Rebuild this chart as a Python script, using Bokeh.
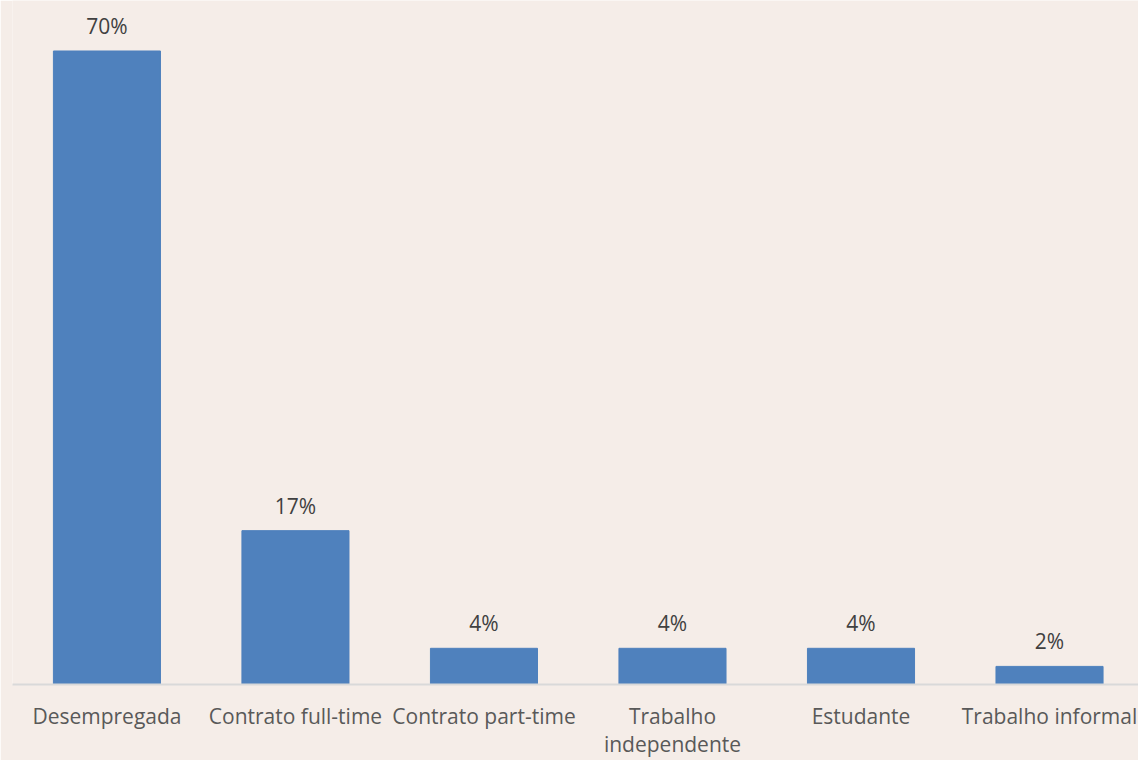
from bokeh.plotting import figure
from bokeh.models import ColumnDataSource, LabelSet, Range1d, FixedTicker
from bokeh.core.properties import value
from bokeh.embed import file_html
from bokeh.resources import INLINE

categories = ["Desempregada", "Contrato full-time", "Contrato part-time",
              "Trabalho\nindependente", "Estudante", "Trabalho informal"]
values = [70, 17, 4, 4, 4, 2]
value_labels = ["70%", "17%", "4%", "4%", "4%", "2%"]

BG = "#F5EDE8"
BAR = "#4F81BD"
FONT = "Open Sans"

xs = list(range(len(categories)))
src = ColumnDataSource(dict(x=xs, top=values, lab=value_labels))

p = figure(width=1138, height=760, output_backend="svg", toolbar_location=None,
           x_range=Range1d(-0.501, 5.472), y_range=Range1d(0, 75.58),
           min_border_left=12, min_border_right=0, min_border_top=0,
           min_border_bottom=70)
p.background_fill_color = BG
p.border_fill_color = BG
p.outline_line_color = None
p.grid.visible = False
p.yaxis.visible = False

p.vbar(x="x", top="top", width=0.568, bottom=0, source=src,
       fill_color=BAR, line_color=BAR)

labels = LabelSet(x="x", y="top", text="lab", source=src, y_offset=17,
                  text_align="center", text_baseline="alphabetic",
                  text_font=value(FONT), text_font_size="21px", text_color="#404040")
p.add_layout(labels)

ax = p.xaxis[0]
ax.ticker = FixedTicker(ticks=xs)
ax.major_label_overrides = {i: c for i, c in zip(xs, categories)}
ax.major_tick_line_color = None
ax.minor_tick_line_color = None
ax.major_tick_out = 0
ax.major_tick_in = 0
ax.minor_tick_out = 0
ax.minor_tick_in = 0
ax.axis_line_color = "#D9D9D9"
ax.axis_line_width = 2
ax.major_label_standoff = 17
ax.major_label_text_font = FONT
ax.major_label_text_font_size = "21px"
ax.major_label_text_line_height = 1.0
ax.major_label_text_color = "#595959"

open("out.html", "w").write(file_html(p, INLINE))
